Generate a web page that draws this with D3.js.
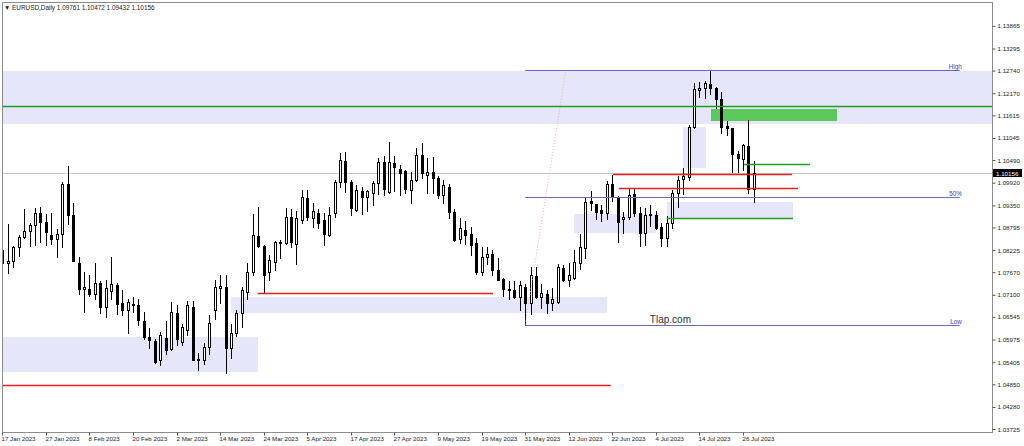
<!DOCTYPE html>
<html>
<head>
<meta charset="utf-8">
<script src="https://cdn.jsdelivr.net/npm/d3@7"></script>
<style>
  html, body { margin: 0; padding: 0; background: #fff; }
  svg { display: block; font-family: "Liberation Sans", Arial, sans-serif; }
</style>
</head>
<body>
<div id="chart"></div>
<script>
// EURUSD daily bars, 17 Jan 2023 .. 28 Jul 2023 (one row per week)
var open = [
  1.0823,1.0789,1.0795,1.0830,
  1.0856,1.0870,1.0885,1.0915,1.0893,
  1.0861,1.0851,1.0863,1.0990,1.0910,
  1.0790,1.0725,1.0725,1.0711,1.0740,
  1.0680,1.0720,1.0735,1.0690,1.0672,
  1.0684,1.0684,1.0644,1.0604,1.0594,
  1.0546,1.0601,1.0574,1.0664,1.0591,
  1.0621,1.0680,1.0546,1.0546,1.0579,
  1.0672,1.0727,1.0730,1.0576,1.0614,
  1.0664,1.0717,1.0767,1.0858,1.0833,
  1.0767,1.0792,1.0842,1.0840,1.0906,
  1.0839,1.0898,1.0954,1.0903,1.0917,
  1.0899,1.0860,1.0916,1.0994,1.1047,
  1.0994,1.0924,1.0970,1.0957,1.0966,
  1.0991,1.1044,1.0969,1.1042,1.1027,
  1.1022,1.0974,1.1000,1.1062,1.1012,
  1.1020,1.1005,1.0961,1.0982,1.0919,
  1.0850,1.0873,1.0863,1.0840,1.0767,
  1.0805,1.0812,1.0773,1.0750,1.0725,
  1.0722,1.0705,1.0730,1.0689,1.0757,
  1.0705,1.0712,1.0689,1.0692,1.0777,
  1.0747,1.0752,1.0790,1.0828,1.0946,
  1.0939,1.0924,1.0916,1.0989,1.0956,
  1.0901,1.0906,1.0964,1.0916,1.0866,
  1.0911,1.0911,1.0881,1.0853,1.0891,
  1.0966,1.1001,1.1007,1.1132,1.1225,
  1.1230,1.1240,1.1230,1.1203,1.1134,
  1.1130,1.1064,1.1052,1.1085,1.09761
];
var high = [
  1.0868,1.0887,1.0834,1.0861,
  1.0927,1.0890,1.0928,1.0930,1.0914,
  1.0915,1.0875,1.0994,1.1033,1.0941,
  1.0805,1.0767,1.0760,1.0790,1.0745,
  1.0747,1.0805,1.0740,1.0722,1.0700,
  1.0705,1.0700,1.0667,1.0627,1.0598,
  1.0617,1.0645,1.0692,1.0685,1.0637,
  1.0694,1.0695,1.0563,1.0589,1.0659,
  1.0747,1.0760,1.0760,1.0637,1.0672,
  1.0729,1.0789,1.0913,1.0931,1.0836,
  1.0810,1.0846,1.0847,1.0929,1.0925,
  1.0921,1.0973,1.0974,1.0942,1.0927,
  1.0917,1.0932,1.0998,1.1067,1.1070,
  1.0999,1.0986,1.0981,1.0974,1.0996,
  1.1054,1.1060,1.1095,1.1060,1.1037,
  1.1025,1.1018,1.1080,1.1092,1.1054,
  1.1057,1.1010,1.1000,1.0990,1.0926,
  1.0904,1.0895,1.0880,1.0852,1.0830,
  1.0830,1.0822,1.0802,1.0752,1.0746,
  1.0746,1.0746,1.0736,1.0780,1.0780,
  1.0736,1.0722,1.0728,1.0787,1.0785,
  1.0790,1.0823,1.0864,1.0955,1.0971,
  1.0939,1.0935,1.0996,1.1012,1.0959,
  1.0918,1.0976,1.0976,1.0930,1.0929,
  1.0935,1.0920,1.0890,1.0908,1.0973,
  1.1008,1.1030,1.1137,1.1244,1.1245,
  1.1248,1.1276,1.1232,1.1219,1.1146,
  1.1130,1.1071,1.1090,1.1150,1.10472
];
var low = [
  1.0767,1.0766,1.0780,1.0807,
  1.0854,1.0832,1.0836,1.0843,1.0836,
  1.0837,1.0804,1.0830,1.0888,1.0794,
  1.0711,1.0667,1.0706,1.0700,1.0664,
  1.0654,1.0700,1.0662,1.0659,1.0614,
  1.0668,1.0633,1.0600,1.0577,1.0538,
  1.0534,1.0560,1.0570,1.0583,1.0585,
  1.0610,1.0546,1.0521,1.0537,1.0560,
  1.0650,1.0690,1.0513,1.0551,1.0606,
  1.0630,1.0700,1.0759,1.0830,1.0714,
  1.0747,1.0772,1.0803,1.0837,1.0831,
  1.0788,1.0890,1.0899,1.0880,1.0877,
  1.0835,1.0858,1.0907,1.0980,1.0968,
  1.0911,1.0920,1.0914,1.0921,1.0935,
  1.0963,1.0962,1.0966,1.0970,1.0961,
  1.0966,1.0942,1.0996,1.1004,1.0966,
  1.0966,1.0953,1.0940,1.0904,1.0845,
  1.0840,1.0837,1.0810,1.0762,1.0760,
  1.0787,1.0759,1.0747,1.0708,1.0700,
  1.0702,1.0672,1.0635,1.0662,1.0701,
  1.0676,1.0665,1.0672,1.0689,1.0744,
  1.0733,1.0751,1.0775,1.0803,1.0924,
  1.0900,1.0896,1.0900,1.0945,1.0843,
  1.0866,1.0900,1.0908,1.0834,1.0835,
  1.0883,1.0876,1.0833,1.0834,1.0877,
  1.0932,1.0964,1.0999,1.1129,1.1208,
  1.1205,1.1216,1.1180,1.1117,1.1112,
  1.1020,1.1020,1.1023,1.0966,1.09432
];
var close = [
  1.0789,1.0795,1.0830,1.0856,
  1.0870,1.0885,1.0915,1.0893,1.0868,
  1.0851,1.0863,1.0989,1.0912,1.0795,
  1.0724,1.0730,1.0711,1.0740,1.0680,
  1.0727,1.0736,1.0687,1.0672,1.0692,
  1.0688,1.0647,1.0604,1.0596,1.0541,
  1.0609,1.0571,1.0667,1.0599,1.0629,
  1.0685,1.0546,1.0549,1.0579,1.0639,
  1.0729,1.0732,1.0576,1.0614,1.0664,
  1.0722,1.0767,1.0861,1.0833,1.0760,
  1.0798,1.0843,1.0843,1.0906,1.0843,
  1.0902,1.0956,1.0906,1.0920,1.0890,
  1.0862,1.0911,1.0994,1.1049,1.0994,
  1.0928,1.0974,1.0957,1.0972,1.0991,
  1.1044,1.0976,1.1044,1.1032,1.1017,
  1.0976,1.1000,1.1062,1.1017,1.1020,
  1.1005,1.0961,1.0986,1.0919,1.0848,
  1.0878,1.0860,1.0835,1.0767,1.0805,
  1.0812,1.0773,1.0748,1.0725,1.0722,
  1.0705,1.0735,1.0689,1.0760,1.0705,
  1.0715,1.0689,1.0700,1.0780,1.0747,
  1.0760,1.0793,1.0830,1.0944,1.0942,
  1.0919,1.0916,1.0989,1.0956,1.0893,
  1.0906,1.0961,1.0916,1.0866,1.0911,
  1.0913,1.0878,1.0853,1.0891,1.0966,
  1.0999,1.1009,1.1132,1.1227,1.1230,
  1.1243,1.1230,1.1203,1.1132,1.1129,
  1.1064,1.1054,1.1087,1.0976,1.10156
];

// bottom axis: a label every 8 bars
var xTickLabels = ["17 Jan 2023","27 Jan 2023","8 Feb 2023","20 Feb 2023","2 Mar 2023","14 Mar 2023",
  "24 Mar 2023","5 Apr 2023","17 Apr 2023","27 Apr 2023","9 May 2023","19 May 2023","31 May 2023",
  "12 Jun 2023","22 Jun 2023","4 Jul 2023","14 Jul 2023","26 Jul 2023"];
var priceTicks = [1.13865,1.13295,1.12740,1.12170,1.11615,1.11045,1.10490,1.09920,1.09350,1.08795,
  1.08225,1.07670,1.07100,1.06545,1.05975,1.05405,1.04850,1.04280,1.03725];

// drawn objects, in bar index and price: [fromBar, toBar, priceTop, priceBottom]
var zones = [
  [-5, 300, 1.12730, 1.11397],
  [-5, 46.9, 1.06040, 1.05160],
  [42.0, 111.0, 1.07046, 1.06643],
  [105.0, 120.1, 1.09133, 1.08655],
  [122.0, 145.2, 1.09435, 1.09033],
  [125.0, 129.2, 1.11321, 1.10290]
];
var greenZone = [130.1, 153.2, 1.11774, 1.11472];
// [fromBar, toBar, price]
var redLines = [[46.9, 90.1, 1.07146], [-5, 111.7, 1.04832], [112.1, 145.0, 1.10139], [113.2, 146.1, 1.09787]];
var greenLines = [[-5, 300, 1.11849], [122.0, 145.2, 1.09033], [136.2, 148.3, 1.10391]];
var fibNames = ["High", "50%", "Low"];
var fibPrices = [1.12760, 1.09555, 1.06350];
var fibSpan = [96, 175.8];
var fibBase = [[96, 1.06350], [103.5, 1.12760]];

var width = 1024, height = 446;
var plot = {left: 2, right: 992, top: 2, bottom: 432};
var n = close.length;
var f5 = d3.format(".5f");

var svg = d3.select("#chart").append("svg")
    .attr("width", width)
    .attr("height", height)
    .style("background", "#fff");

var x = d3.scaleLinear().domain([0, 136]).range([2.3, 743]);
var y = d3.scaleLinear().domain([1.0365, 1.1444]).range([432, 3]);
var px = function(i) { return Math.round(x(i)) + 0.5; };
var py = function(p) { return Math.round(y(p)) + 0.5; };

svg.append("clipPath").attr("id", "clip")
  .append("rect")
    .attr("x", plot.left).attr("y", plot.top)
    .attr("width", plot.right - plot.left).attr("height", plot.bottom - plot.top);

var g = svg.append("g").attr("clip-path", "url(#clip)");

// shaded zones go behind the bars
g.selectAll(".zone").data(zones).enter().append("rect")
    .attr("class", "zone")
    .attr("x", function(d) { return Math.round(x(d[0])); })
    .attr("width", function(d) { return Math.round(x(d[1])) - Math.round(x(d[0])); })
    .attr("y", function(d) { return Math.round(y(d[2])); })
    .attr("height", function(d) { return Math.round(y(d[3])) - Math.round(y(d[2])); })
    .style("fill", "#e6e6fa");

g.append("rect")
    .attr("x", Math.round(x(greenZone[0])))
    .attr("width", Math.round(x(greenZone[1])) - Math.round(x(greenZone[0])))
    .attr("y", Math.round(y(greenZone[2])))
    .attr("height", Math.round(y(greenZone[3])) - Math.round(y(greenZone[2])))
    .style("fill", "#5cc85c");

// current price line
g.append("line")
    .attr("x1", plot.left).attr("x2", plot.right)
    .attr("y1", py(close[n - 1])).attr("y2", py(close[n - 1]))
    .style("stroke", "#c8c8c8").style("stroke-width", 1);

// candles
var idx = d3.range(n);
var candles = g.append("g").attr("shape-rendering", "crispEdges");
candles.selectAll(".wick").data(idx).enter().append("line")
    .attr("x1", function(i) { return px(i); })
    .attr("x2", function(i) { return px(i); })
    .attr("y1", function(i) { return Math.round(y(high[i])); })
    .attr("y2", function(i) { return Math.round(y(low[i])) + 1; })
    .style("stroke", "#000");

candles.selectAll(".body").data(idx).enter().append("rect")
    .attr("x", function(i) { return px(i) - 1; })
    .attr("width", 2)
    .attr("y", function(i) { return Math.round(y(Math.max(open[i], close[i]))) + 0.5; })
    .attr("height", function(i) {
      return Math.max(1, Math.round(y(Math.min(open[i], close[i]))) - Math.round(y(Math.max(open[i], close[i]))));
    })
    .style("fill", function(i) { return close[i] >= open[i] ? "#fff" : "#000"; })
    .style("stroke", "#000");

// levels drawn on top
g.selectAll(".red").data(redLines).enter().append("line")
    .attr("x1", function(d) { return x(d[0]); })
    .attr("x2", function(d) { return x(d[1]); })
    .attr("y1", function(d) { return py(d[2]); })
    .attr("y2", function(d) { return py(d[2]); })
    .style("stroke", "#ee1c1c").style("stroke-width", 1.5);

g.selectAll(".green").data(greenLines).enter().append("line")
    .attr("x1", function(d) { return x(d[0]); })
    .attr("x2", function(d) { return x(d[1]); })
    .attr("y1", function(d) { return py(d[2]); })
    .attr("y2", function(d) { return py(d[2]); })
    .style("stroke", "#1f9e1f").style("stroke-width", 1.5);

// fibonacci
g.append("line")
    .attr("x1", x(fibBase[0][0])).attr("y1", y(fibBase[0][1]))
    .attr("x2", x(fibBase[1][0])).attr("y2", y(fibBase[1][1]))
    .style("stroke", "#f2a8a8").style("stroke-width", 1).style("stroke-dasharray", "1,2");

g.selectAll(".fib").data(fibPrices).enter().append("line")
    .attr("x1", x(fibSpan[0])).attr("x2", x(fibSpan[1]))
    .attr("y1", function(d) { return py(d); })
    .attr("y2", function(d) { return py(d); })
    .style("stroke", "#6b6bbd").style("stroke-width", 1);

g.selectAll(".fibtxt").data(fibPrices).enter().append("text")
    .attr("x", x(fibSpan[1]) + 2)
    .attr("y", function(d) { return py(d) - 2; })
    .attr("text-anchor", "end")
    .style("font-size", "6.3px")
    .style("fill", "#3d3dab")
    .text(function(d, i) { return fibNames[i]; });

g.append("text")
    .attr("x", x(118.9)).attr("y", y(1.0639))
    .style("font-size", "10px").style("fill", "#333")
    .text("Tlap.com");

// frame
svg.append("rect")
    .attr("x", plot.left + 0.5).attr("y", plot.top + 0.5)
    .attr("width", plot.right - plot.left).attr("height", plot.bottom - plot.top)
    .style("fill", "none").style("stroke", "#8c8c8c");

// price axis
var yAxis = svg.append("g")
    .attr("transform", "translate(" + (plot.right + 0.5) + ",0)")
    .call(d3.axisRight(y).tickValues(priceTicks).tickFormat(f5).tickSize(3).tickPadding(2));
yAxis.select(".domain").remove();
yAxis.selectAll("line").style("stroke", "#555");
yAxis.selectAll("text").style("font-size", "6.2px").style("fill", "#222").style("font-family", "Liberation Sans, Arial, sans-serif");

// current price tag
svg.append("rect")
    .attr("x", plot.right + 1).attr("y", Math.round(y(close[n - 1])) - 4)
    .attr("width", 29).attr("height", 8)
    .style("fill", "#000");
svg.append("text")
    .attr("x", plot.right + 4).attr("y", y(close[n - 1]) + 2.2)
    .style("font-size", "6.2px").style("fill", "#fff")
    .text(f5(close[n - 1]));

// time axis
var tickIdx = xTickLabels.map(function(d, i) { return i * 8; });
var xAxis = svg.append("g")
    .attr("transform", "translate(0," + (plot.bottom + 0.5) + ")")
    .call(d3.axisBottom(x).tickValues(tickIdx)
      .tickFormat(function(d, i) { return xTickLabels[i]; })
      .tickSize(3).tickPadding(1));
xAxis.select(".domain").remove();
xAxis.selectAll(".tick").attr("transform", function(d) { return "translate(" + px(d) + ",0)"; });
xAxis.selectAll("line").style("stroke", "#555");
xAxis.selectAll("text")
    .attr("text-anchor", "start")
    .attr("dx", -1)
    .style("font-size", "6.2px").style("fill", "#222").style("font-family", "Liberation Sans, Arial, sans-serif");

// header
svg.append("text")
    .attr("x", 4).attr("y", 9.5)
    .style("font-size", "6.4px").style("fill", "#222")
    .text("\u25BC EURUSD,Daily  " + [open[n - 1], high[n - 1], low[n - 1], close[n - 1]].map(f5).join(" "));
</script>
</body>
</html>
